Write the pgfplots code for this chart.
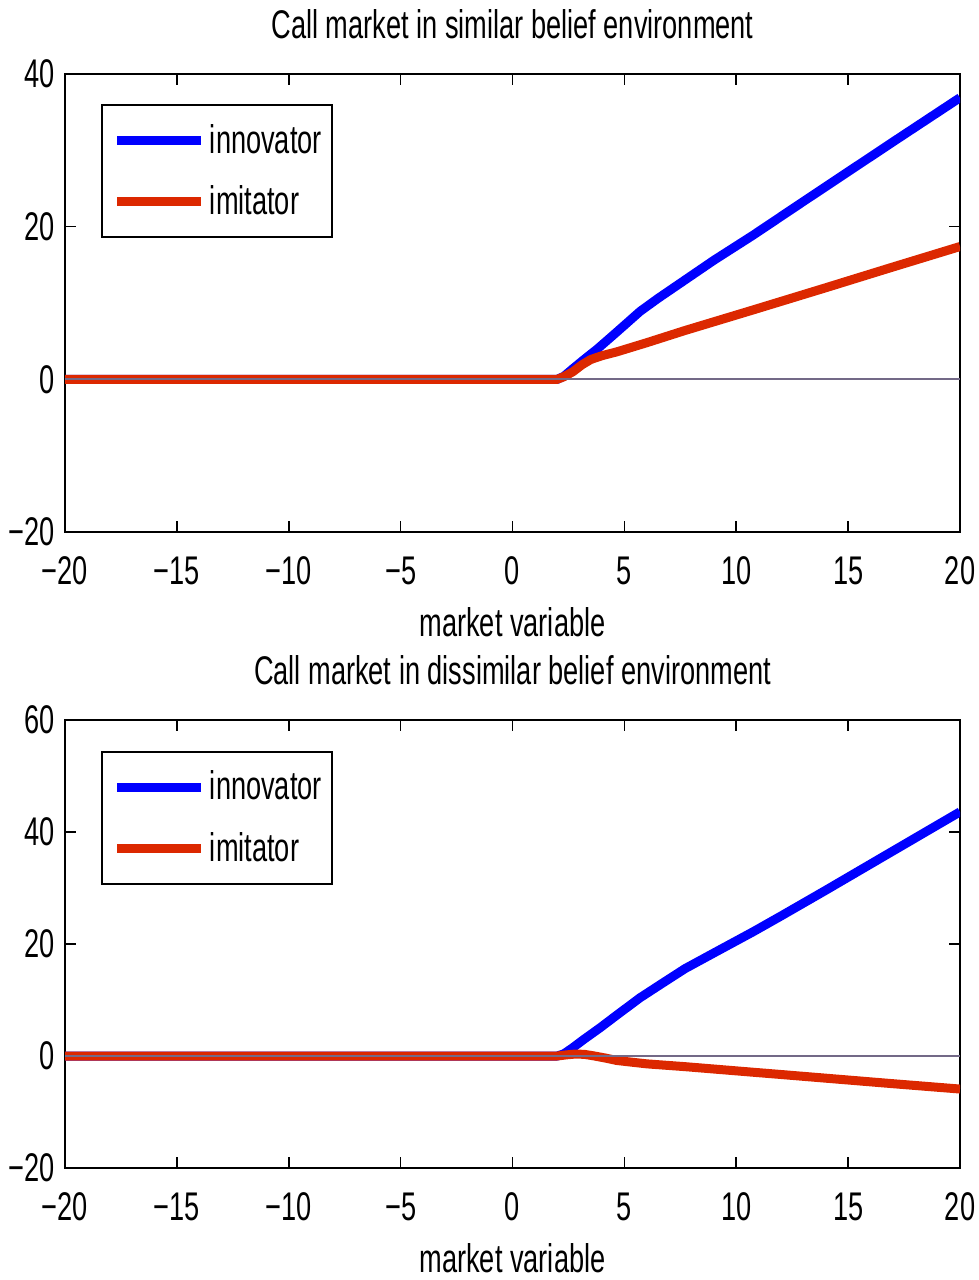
\documentclass[border=0pt]{standalone}
\usepackage{pgfplots}
\pgfplotsset{compat=1.18}
\usepackage{fontspec}
\setmainfont{Liberation Sans}[FakeStretch=0.68]

\definecolor{innov}{RGB}{0,0,255}
\definecolor{imit}{RGB}{220,40,0}
\definecolor{zeroline}{RGB}{115,105,135}

\pgfplotsset{
  callpanel/.style={
    scale only axis,
    width=447.5pt,
    xmin=-20, xmax=20,
    xtick={-20,-15,...,20},
    xticklabels={−20,−15,−10,−5,0,5,10,15,20},
    tick align=inside,
    ticks=major,
    major tick length=5.5pt,
    axis line style={line width=1.1pt},
    every tick/.style={black, line width=0.8pt},
    font=\fontsize{20pt}{24pt}\selectfont,
    xticklabel style={anchor=base, yshift=-26pt},
    yticklabel style={anchor=east, inner xsep=0pt, xshift=-5pt},
    xlabel={market variable},
    xlabel style={at={(0.5,0)}, anchor=base, yshift=-52pt},
    title style={at={(0.5,1)}, anchor=base, yshift=12pt},
    legend cell align=left,
    legend style={draw=black, line width=1pt, inner xsep=3pt, inner ysep=7.5pt,
      row sep=11pt, font=\fontsize{20pt}{24pt}\selectfont,
      nodes={inner sep=2pt}},
    legend image code/.code={\path (0pt,0pt);
      \draw[#1] (2.5pt,0pt) -- (44.5pt,0pt);},
  },
  curve/.style={line width=4.5pt, line join=round, line cap=butt},
}

\begin{document}
\begin{tikzpicture}
\path[use as bounding box] (0pt,0pt) rectangle (489.5pt,-640pt);

% upper panel: similar beliefs
\begin{axis}[callpanel,
  at={(32.5pt,-266pt)}, anchor=south west,
  height=229pt,
  ymin=-20, ymax=40, ytick={-20,0,20,40},
  yticklabels={−20,0,20,40},
  title={Call market in similar belief environment},
  legend style={at={(0.0402,0.9345)}, anchor=north west},
]
\addplot[curve, innov] coordinates {
  (-20,0) (2.0,0) (2.3,0.4) (2.7,1.4) (3.2,2.6) (3.8,4.0) (4.66,6.2)
  (5.7,8.9) (6.5,10.6) (7.7,13.0) (9,15.6) (10.76,18.9) (13,23.3)
  (15,27.2) (17,31.1) (20,36.9)};
\addlegendentry{innovator}
\addplot[curve, imit] coordinates {
  (-20,0) (2.0,0) (2.3,0.35) (2.7,1.0) (3.1,1.9) (3.5,2.6) (4.0,3.1)
  (4.66,3.6) (6,4.8) (7.71,6.4) (10.76,9.1) (14,12.0) (16.87,14.6)
  (20,17.4)};
\addlegendentry{imitator}
\addplot[zeroline, line width=1pt, forget plot] coordinates {(-20,0) (20,0)};
\end{axis}

% lower panel: dissimilar beliefs
\begin{axis}[callpanel,
  at={(32.5pt,-584pt)}, anchor=south west,
  height=224pt,
  ymin=-20, ymax=60, ytick={-20,0,20,40,60},
  yticklabels={−20,0,20,40,60},
  title={Call market in dissimilar belief environment},
  legend style={at={(0.0402,0.9308)}, anchor=north west},
]
\addplot[curve, innov] coordinates {
  (-20,0) (2.0,0) (2.3,0.4) (2.7,1.5) (3.2,3.0) (3.9,5.0) (4.66,7.3)
  (5.7,10.4) (6.7,13.0) (7.71,15.6) (9,18.4) (10.76,22.2) (12,25.0)
  (14,29.6) (16.87,36.3) (20,43.6)};
\addlegendentry{innovator}
\addplot[curve, imit] coordinates {
  (-20,0) (2.0,0) (2.4,0.2) (2.8,0.35) (3.2,0.3) (3.6,0.05) (4.2,-0.4)
  (4.66,-0.8) (6,-1.4) (7.71,-1.9) (10.76,-2.9) (12,-3.3) (16.87,-4.9)
  (20,-5.9)};
\addlegendentry{imitator}
\addplot[zeroline, line width=1pt, forget plot] coordinates {(-20,0) (20,0)};
\end{axis}
\end{tikzpicture}
\end{document}
